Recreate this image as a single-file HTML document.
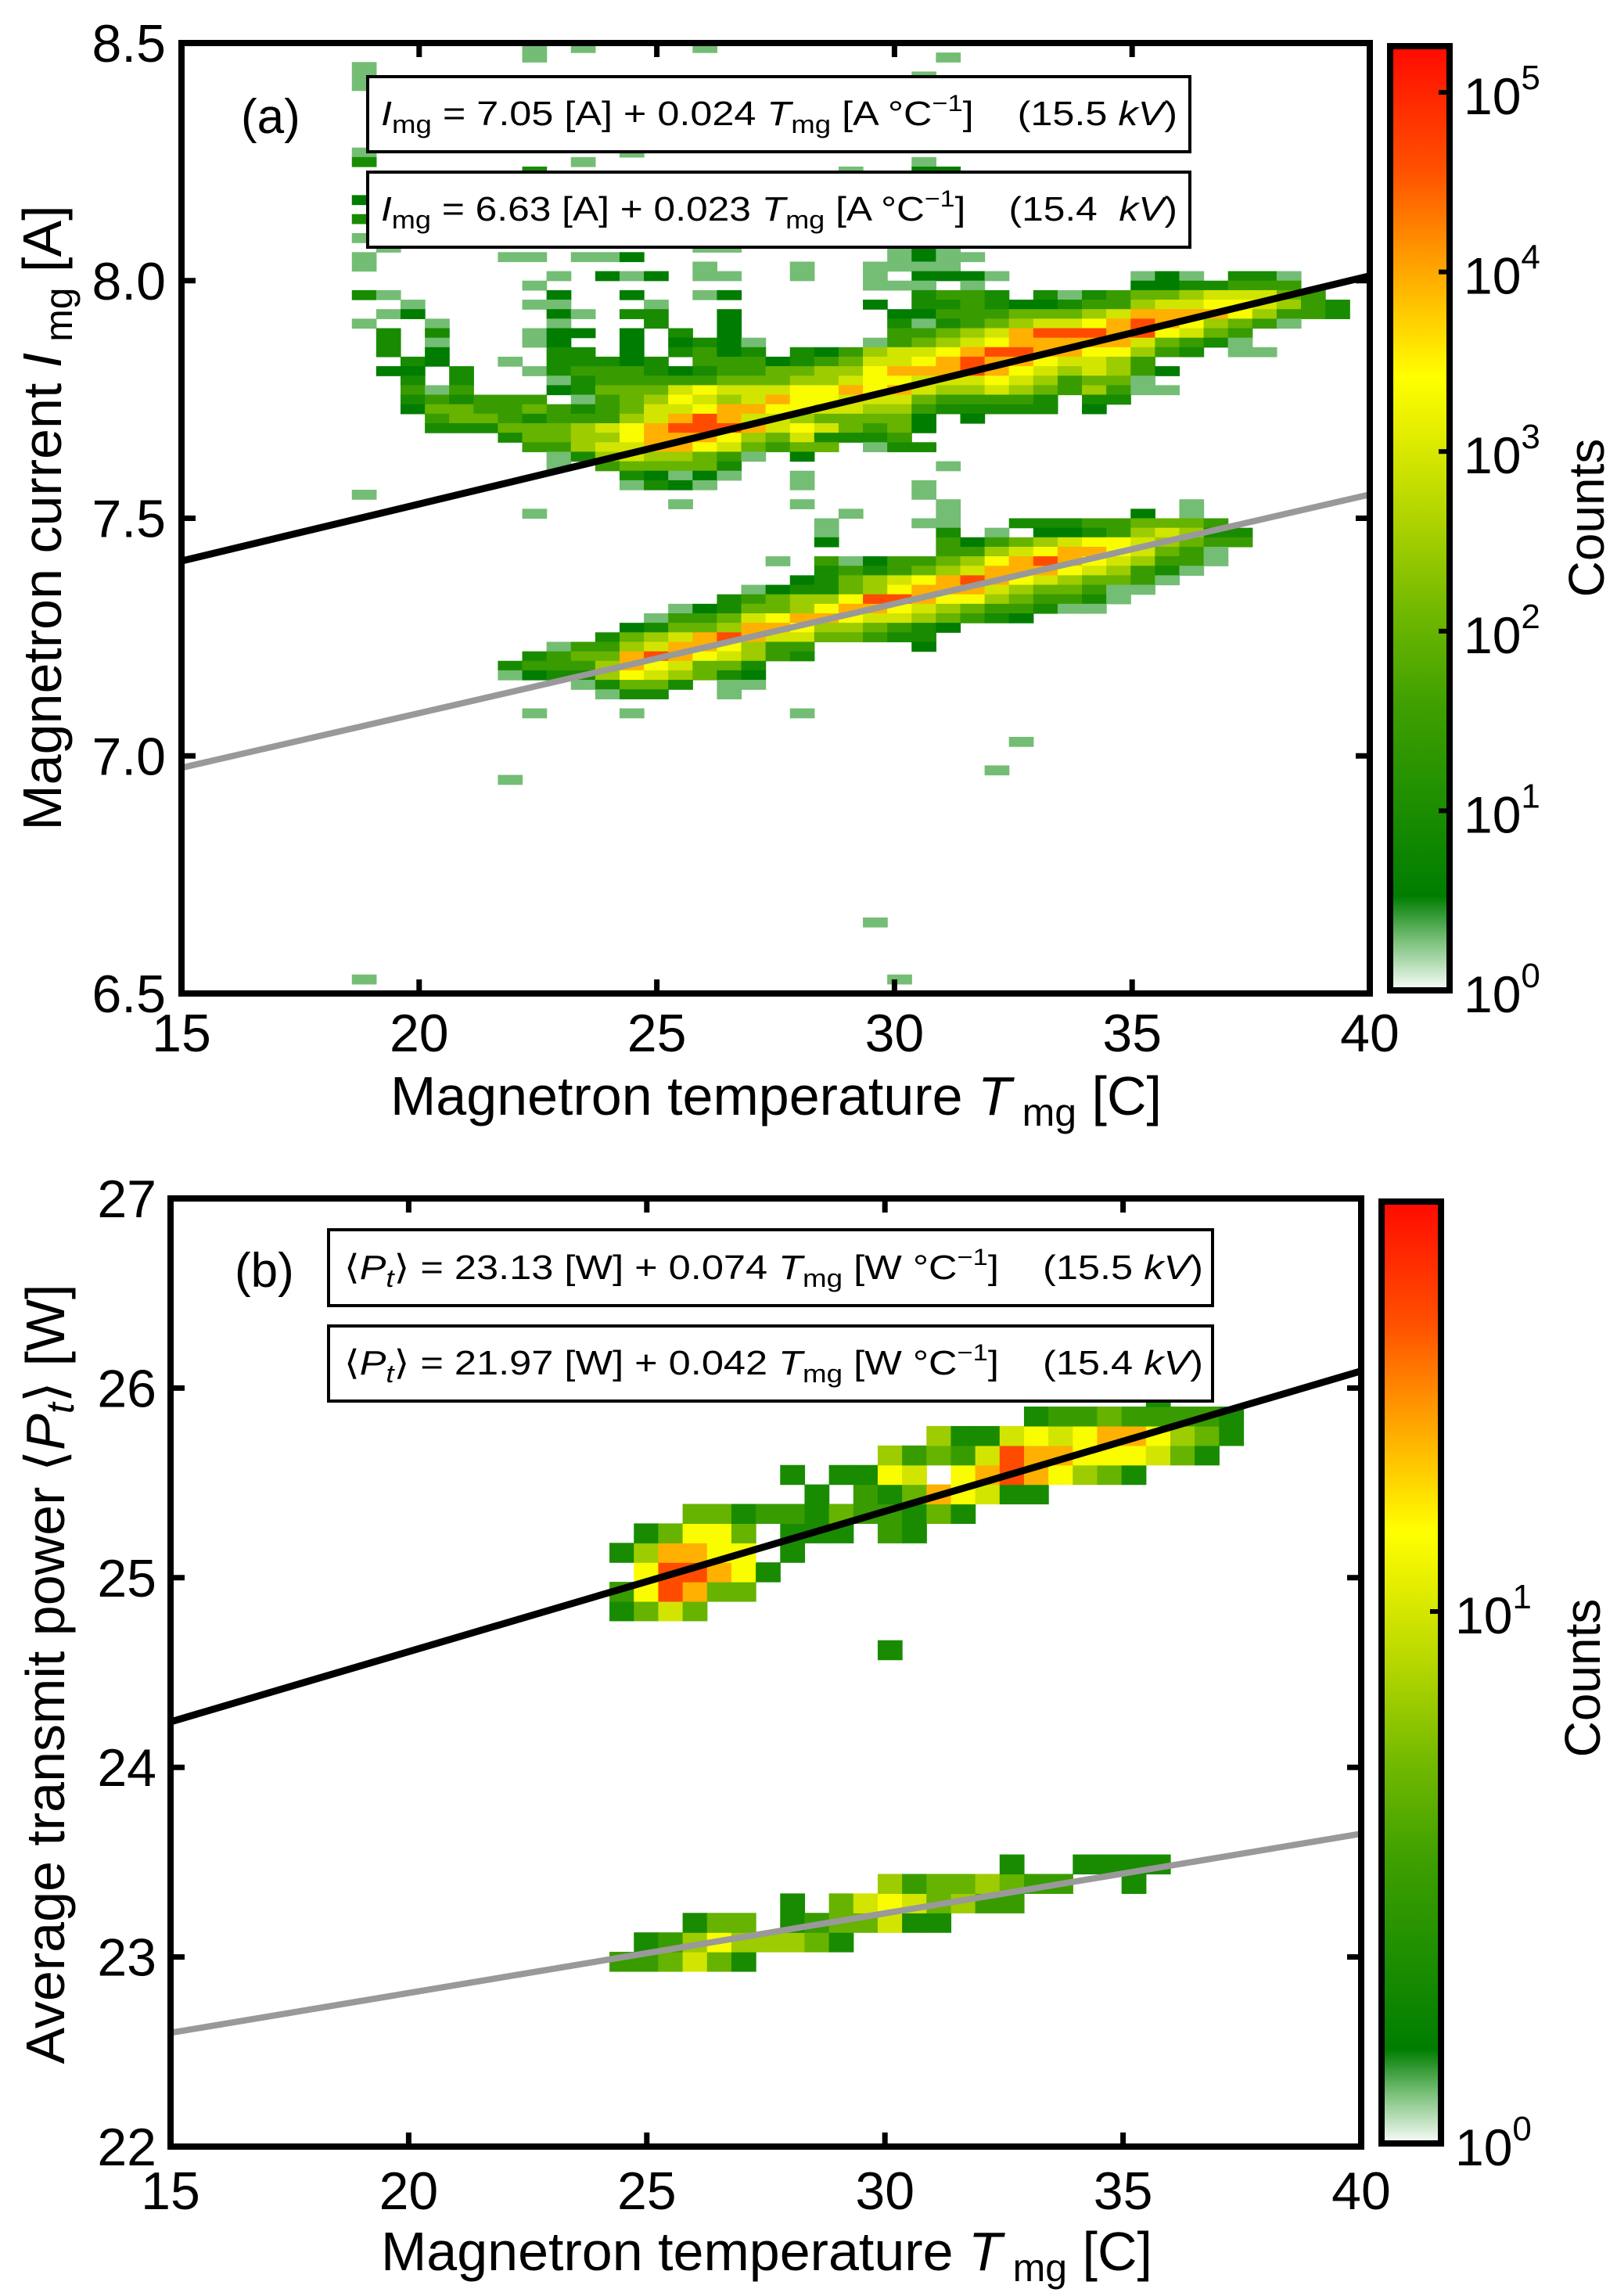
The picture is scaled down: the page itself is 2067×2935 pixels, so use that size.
<!DOCTYPE html>
<html><head><meta charset="utf-8"><title>Magnetron current and transmit power vs temperature</title>
<style>
html,body{margin:0;padding:0;background:#fff;}
svg{display:block;font-family:"Liberation Sans",Arial,sans-serif;}
</style></head>
<body>
<svg id="fig" width="2067" height="2935" viewBox="0 0 2067 2935" xmlns="http://www.w3.org/2000/svg">
<defs>
<linearGradient id="cmap" x1="0" y1="1" x2="0" y2="0"></linearGradient>
<clipPath id="clipA"><rect x="232" y="55" width="1519" height="1215"/></clipPath>
<clipPath id="clipB"><rect x="218" y="1532" width="1522" height="1212"/></clipPath>
</defs>
<g id="panelA">
 <g id="cellsA" clip-path="url(#clipA)"></g>
 <g id="linesA" clip-path="url(#clipA)"></g>
</g>
<g id="panelB">
 <g id="cellsB" clip-path="url(#clipB)"></g>
 <g id="linesB" clip-path="url(#clipB)"></g>
</g>
<g id="annot">
 <text x="308" y="170" font-size="62">(a)</text>
 <g>
  <rect x="470" y="98" width="1051" height="96" fill="#fff" stroke="#000" stroke-width="4"/>
  <text x="487" y="160" font-size="44" textLength="1018" lengthAdjust="spacingAndGlyphs"><tspan font-style="italic">I</tspan><tspan font-size="32" dy="10">mg</tspan><tspan dy="-10"> = 7.05 [A] + 0.024 </tspan><tspan font-style="italic">T</tspan><tspan font-size="32" dy="10">mg</tspan><tspan dy="-10"> [A °C</tspan><tspan font-size="30" dy="-18">−1</tspan><tspan dy="18">]&#160;&#160;&#160;&#160;(15.5 </tspan><tspan font-style="italic">kV</tspan><tspan>)</tspan></text>
 </g>
 <g>
  <rect x="470" y="220" width="1051" height="96" fill="#fff" stroke="#000" stroke-width="4"/>
  <text x="487" y="282" font-size="44" textLength="1018" lengthAdjust="spacingAndGlyphs"><tspan font-style="italic">I</tspan><tspan font-size="32" dy="10">mg</tspan><tspan dy="-10"> = 6.63 [A] + 0.023 </tspan><tspan font-style="italic">T</tspan><tspan font-size="32" dy="10">mg</tspan><tspan dy="-10"> [A °C</tspan><tspan font-size="30" dy="-18">−1</tspan><tspan dy="18">]&#160;&#160;&#160;&#160;(15.4&#160;&#160;</tspan><tspan font-style="italic">kV</tspan><tspan>)</tspan></text>
 </g>
 <text x="300" y="1645" font-size="62">(b)</text>
 <g>
  <rect x="420" y="1572" width="1130" height="97" fill="#fff" stroke="#000" stroke-width="4"/>
  <text x="440" y="1635" font-size="44" textLength="1098" lengthAdjust="spacingAndGlyphs">⟨<tspan font-style="italic">P</tspan><tspan font-size="32" dy="10" font-style="italic">t</tspan><tspan dy="-10">⟩ = 23.13 [W] + 0.074 </tspan><tspan font-style="italic">T</tspan><tspan font-size="32" dy="10">mg</tspan><tspan dy="-10"> [W °C</tspan><tspan font-size="30" dy="-18">−1</tspan><tspan dy="18">]&#160;&#160;&#160;&#160;(15.5 </tspan><tspan font-style="italic">kV</tspan><tspan>)</tspan></text>
 </g>
 <g>
  <rect x="420" y="1695" width="1130" height="96" fill="#fff" stroke="#000" stroke-width="4"/>
  <text x="440" y="1757" font-size="44" textLength="1098" lengthAdjust="spacingAndGlyphs">⟨<tspan font-style="italic">P</tspan><tspan font-size="32" dy="10" font-style="italic">t</tspan><tspan dy="-10">⟩ = 21.97 [W] + 0.042 </tspan><tspan font-style="italic">T</tspan><tspan font-size="32" dy="10">mg</tspan><tspan dy="-10"> [W °C</tspan><tspan font-size="30" dy="-18">−1</tspan><tspan dy="18">]&#160;&#160;&#160;&#160;(15.4 </tspan><tspan font-style="italic">kV</tspan><tspan>)</tspan></text>
 </g>
</g>
<g id="axes"></g>
<g font-size="70">
 <text x="992" y="1425" text-anchor="middle">Magnetron temperature <tspan font-style="italic">T</tspan><tspan font-size="50" dy="14"> mg</tspan><tspan dy="-14"> [C]</tspan></text>
 <text transform="translate(78,662) rotate(-90)" text-anchor="middle">Magnetron current <tspan font-style="italic">I</tspan><tspan font-size="50" dy="14"> mg</tspan><tspan dy="-14"> [A]</tspan></text>
 <text x="980" y="2902" text-anchor="middle">Magnetron temperature <tspan font-style="italic">T</tspan><tspan font-size="50" dy="14"> mg</tspan><tspan dy="-14"> [C]</tspan></text>
 <text transform="translate(82,2140) rotate(-90)" text-anchor="middle">Average transmit power ⟨<tspan font-style="italic">P</tspan><tspan font-size="50" dy="12" font-style="italic">t</tspan><tspan dy="-12">⟩ [W]</tspan></text>
 <text transform="translate(2050,662) rotate(-90)" text-anchor="middle" font-size="64">Counts</text>
 <text transform="translate(2045,2145) rotate(-90)" text-anchor="middle" font-size="64">Counts</text>
</g>
</svg>
<script>
// ---------- data ----------
const xTicksA = [15, 20, 25, 30, 35, 40];
const xTickLabelsA = ["15", "20", "25", "30", "35", "40"];
const yTicksA = [6.5, 7.0, 7.5, 8.0, 8.5];
const yTickLabelsA = ["6.5", "7.0", "7.5", "8.0", "8.5"];
const xTicksB = [15, 20, 25, 30, 35, 40];
const xTickLabelsB = ["15", "20", "25", "30", "35", "40"];
const yTicksB = [22, 23, 24, 25, 26, 27];
const yTickLabelsB = ["22", "23", "24", "25", "26", "27"];
const cbarDecadesA = [0, 1, 2, 3, 4, 5];
const cbarDecadesB = [0, 1];
const fitA = [[7.05, 0.024], [6.63, 0.023]];
const fitB = [[23.13, 0.074], [21.97, 0.042]];
const binT = 0.512;
const binI = 0.02;
const binP = 0.1027;
const levelFrac = {a: 0.055, "1": 0.1, "2": 0.18, "3": 0.28, "4": 0.38, "5": 0.47, "6": 0.56, "7": 0.64, "8": 0.75, "9": 0.88};
const cellsA = [
[0,14,"a.a"],[0,21,"a"],[1,14,"a"],[1,31,"a"],[2,7,"a"],[3,7,"a"],[3,30,"a"],[4,7,"a"],
[11,7,"a"],[11,18,"a"],[12,7,"2"],[12,16,"a"],[12,30,"a"],[13,14,"2"],[13,27,"a"],[13,30,"11"],
[16,7,"1"],[18,7,"2"],[20,7,"a"],
[21,8,"a"],[21,21,"aa"],[21,29,"a1a"],
[22,7,"a"],[22,13,"aa.aa1"],[22,29,"a1aa"],
[23,7,"a"],[23,21,"a"],[23,25,"a"],[23,28,"aaaa"],
[24,15,"a.1a1.aa"],[24,25,"a"],[24,28,"a.111a"],[24,39,"a1a.22a"],
[25,14,"a"],[25,28,"aaa.a"],[25,39,"1122333"],
[26,7,"2a"],[26,15,"1..1..a1"],[26,30,"2332.2a2344566643"],
[27,9,"a"],[27,14,"aa...a"],[27,28,"1.223211233566776532"],
[28,8,"a1"],[28,15,"1a.22"],[28,22,"1"],[28,29,"1133344456888875332"],
[29,7,"a..a"],[29,15,"a...2..1"],[29,29,"2a23456678987543a"],
[30,8,"2.2"],[30,14,"a11.1.2.1"],[30,29,"334568999897643"],
[31,8,"2.a"],[31,14,"a1..1.121a"],[31,28,"a34567888886432a"],
[32,8,"2.1"],[32,15,"22.1.2312.21356678998877532.aa"],
[33,9,"21"],[33,13,"a.22212.3331234667898876653"],
[34,8,"11.2"],[34,14,"a23332123344557888987656531"],
[35,9,"2.2"],[35,15,"a23333344455677666765344a"],
[36,9,"3a3"],[36,15,"124446766677878655654353aa"],
[37,9,"232333"],[37,16,"a3457656877666433332.22"],
[38,9,"144334323466788776655322222.1"],
[39,10,"344323335689866544441.1"],
[40,10,"222444567899986764341"],
[41,13,"24455788875462223"],
[42,14,"3356688764344.a22"],
[43,15,"a2565543a.1"],
[44,15,"a.344442"],[44,31,"a"],
[45,18,"21a1a"],[45,25,"a"],
[46,18,"a21a"],[46,25,"a"],[46,30,"a"],
[47,7,"a"],[47,30,"a"],
[48,20,"a"],[48,25,"a"],[48,31,"a"],[48,41,"a"],
[49,14,"a"],[49,27,"a"],[49,31,"a"],[49,39,"1.a"],
[50,26,"a"],[50,30,"aa..222334443"],
[51,26,"a"],[51,31,"2.a.112356522"],
[52,26,"1"],[52,31,"3134567765433"],
[53,31,"33567887643a"],
[54,24,"a.3a13345789876533a"],
[55,26,"232345688876532a"],
[56,25,"124567898765443a"],
[57,23,"a12245788865443aa"],
[58,22,"2345579987754332a"],
[59,20,"a124457887654332aa"],
[60,19,"a334678876654321"],
[61,18,"12445887554321"],
[62,17,"24568986644322"],
[63,15,"a3356887533....1"],
[64,14,"234489876532"],
[65,13,"23335876442"],
[66,13,"a1225765421"],
[67,16,"a2442.aa"],
[68,17,"a22..a"],
[70,14,"a"],[70,18,"a"],[70,25,"a"],
[73,34,"a"],[76,33,"a"],[77,13,"a"],[92,28,"a"],[98,7,"a"],[98,29,"a"]
];
const cellsB = [
[9,18,"334642"],[10,19,"235755542"],[11,21,"244.2344622"],[12,25,"2.46764533"],
[13,29,"53445433..2"],[14,34,"2..2222"],
[25,29,"2"],[27,18,"2464"],[28,18,"379844"],[29,19,"799872"],[30,18,"258877.2"],
[31,19,"24774.222.32"],[32,21,"442332433242"],[33,26,"2.32487622"],
[34,25,"2.2276.78987542"],[35,29,"53436988777642"],[36,31,"5226767887542"],
[37,35,"233433332"],[38,40,"2"]
];
// ---------- geometry ----------
const A = {x0: 232, x1: 1751, y0: 1270, y1: 55, tMin: 15, tMax: 40, vMin: 6.5, vMax: 8.5};
const B = {x0: 218, x1: 1740, y0: 2744, y1: 1532, tMin: 15, tMax: 40, vMin: 22, vMax: 27};
function sx(P, t) { return P.x0 + (t - P.tMin) / (P.tMax - P.tMin) * (P.x1 - P.x0); }
function sy(P, v) { return P.y0 - (v - P.vMin) / (P.vMax - P.vMin) * (P.y0 - P.y1); }
const NS = "http://www.w3.org/2000/svg";
function mk(tag, attrs, parent) {
  const e = document.createElementNS(NS, tag);
  for (const k in attrs) e.setAttribute(k, attrs[k]);
  parent.appendChild(e);
  return e;
}
const stops = [[0, [250, 253, 250]], [0.055, [116, 189, 116]], [0.1, [0, 125, 0]], [0.2, [30, 143, 0]], [0.3, [62, 159, 0]], [0.4, [112, 184, 0]], [0.5, [176, 212, 0]], [0.6, [232, 240, 0]], [0.65, [255, 255, 0]], [0.75, [255, 176, 0]], [0.87, [255, 80, 0]], [1, [255, 10, 0]]];
function cmap(f) {
  for (let i = 1; i < stops.length; i++) {
    if (f <= stops[i][0]) {
      const a = stops[i - 1], b = stops[i];
      const u = (f - a[0]) / (b[0] - a[0]);
      const c = a[1].map((v, j) => Math.round(v + (b[1][j] - v) * u));
      return "rgb(" + c.join(",") + ")";
    }
  }
  return "rgb(255,10,0)";
}
const grad = document.getElementById("cmap");
stops.forEach(s => mk("stop", {offset: s[0], "stop-color": "rgb(" + s[1].join(",") + ")"}, grad));
const gA = document.getElementById("cellsA");
cellsA.forEach(r => {
  const row = r[0], c0 = r[1], s = r[2];
  for (let k = 0; k < s.length; k++) {
    const ch = s[k];
    if (!(ch in levelFrac)) continue;
    const c = c0 + k;
    const tL = 15 + c * binT, tR = tL + binT;
    const vT = 8.5 - row * binI, vB = vT - binI;
    const el = mk("rect", {x: sx(A, tL), y: sy(A, vT), width: sx(A, tR) - sx(A, tL) + 0.6, height: sy(A, vB) - sy(A, vT) + 0.6, fill: cmap(levelFrac[ch])}, gA);
    
    
  }
});
const gB = document.getElementById("cellsB");
cellsB.forEach(r => {
  const row = r[0], c0 = r[1], s = r[2];
  for (let k = 0; k < s.length; k++) {
    const ch = s[k];
    if (!(ch in levelFrac)) continue;
    const c = c0 + k;
    const tL = 15 + c * binT, tR = tL + binT;
    const vB = 22 + row * binP, vT = vB + binP;
    const el = mk("rect", {x: sx(B, tL), y: sy(B, vT), width: sx(B, tR) - sx(B, tL) + 0.6, height: sy(B, vB) - sy(B, vT) + 0.6, fill: cmap(levelFrac[ch])}, gB);
    
    
  }
});
function drawFits(P, fits, g, tag) {
  const colors = ["#000000", "#999999"];
  fits.forEach((f, i) => {
    const el = mk("line", {x1: sx(P, P.tMin), y1: sy(P, f[0] + f[1] * P.tMin), x2: sx(P, P.tMax), y2: sy(P, f[0] + f[1] * P.tMax), stroke: colors[i], "stroke-width": i === 0 ? 9 : 8}, g);
    
    
  });
}
drawFits(A, fitA, document.getElementById("linesA"), 'panel-a');
drawFits(B, fitB, document.getElementById("linesB"), 'panel-b');
const axes = document.getElementById("axes");
function drawAxes(P, xt, xl, yt, yl, tag, xLabelY, yLabelX) {
  const frame = mk("rect", {x: P.x0, y: P.y1, width: P.x1 - P.x0, height: P.y0 - P.y1, fill: "none", stroke: "#000", "stroke-width": 8}, axes);
  
  
  xt.forEach((t, i) => {
    const x = sx(P, t);
    mk("line", {x1: x, y1: P.y0, x2: x, y2: P.y0 - 18, stroke: "#000", "stroke-width": 7}, axes);
    mk("line", {x1: x, y1: P.y1, x2: x, y2: P.y1 + 18, stroke: "#000", "stroke-width": 7}, axes);
    const lab = mk("text", {x: x, y: xLabelY, "font-size": 68, "text-anchor": "middle"}, axes);
    lab.textContent = xl[i];
    
    
  });
  yt.forEach((v, i) => {
    const y = sy(P, v);
    mk("line", {x1: P.x0, y1: y, x2: P.x0 + 18, y2: y, stroke: "#000", "stroke-width": 7}, axes);
    mk("line", {x1: P.x1, y1: y, x2: P.x1 - 18, y2: y, stroke: "#000", "stroke-width": 7}, axes);
    const lab = mk("text", {x: yLabelX, y: y + 24, "font-size": 68, "text-anchor": "end"}, axes);
    lab.textContent = yl[i];
    
    
  });
}
drawAxes(A, xTicksA, xTickLabelsA, yTicksA, yTickLabelsA, 'panel-a', 1344, 212);
drawAxes(B, xTicksB, xTickLabelsB, yTicksB, yTickLabelsB, 'panel-b', 2824, 200);
function drawCbar(x, w, yTop, yBot, decades, pxPerDecade, tag) {
  const bar = mk("rect", {x: x, y: yTop, width: w, height: yBot - yTop, fill: "url(#cmap)", stroke: "#000", "stroke-width": 8}, axes);
  
  
  decades.forEach(k => {
    const y = yBot - k * pxPerDecade;
    if (k > 0) mk("line", {x1: x + w, y1: y, x2: x + w - 14, y2: y, stroke: "#000", "stroke-width": 6}, axes);
    const t = mk("text", {x: x + w + 18, y: y + 28, "font-size": 66}, axes);
    
    
    t.textContent = "10";
    const sup = mk("tspan", {"font-size": 44, dy: -32}, t);
    sup.textContent = String(k);
  });
}
drawCbar(1777, 76, 59, 1266, cbarDecadesA, 229.6, 'colorbar-a');
drawCbar(1766, 76, 1536, 2740, cbarDecadesB, 680, 'colorbar-b');
</script>
</body></html>
